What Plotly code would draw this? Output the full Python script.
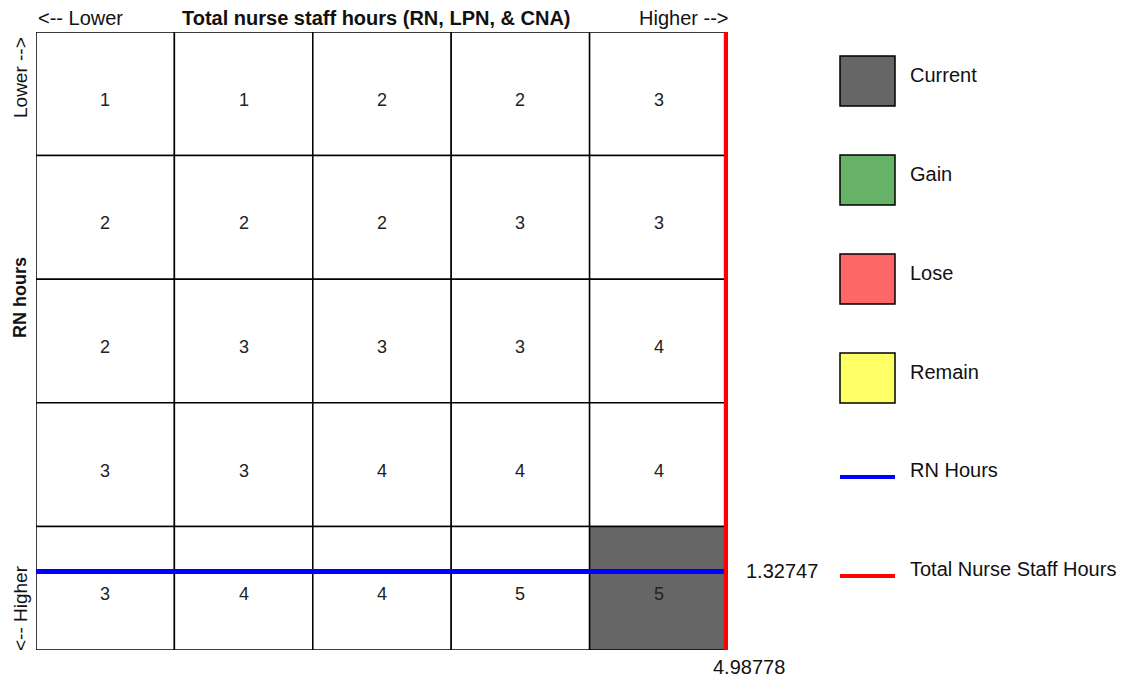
import numpy as np
import plotly.graph_objects as go

# ---- data ----
col_labels = ["1", "2", "3", "4", "5"]          # total nurse staff hours: lower -> higher
row_labels = ["1", "2", "3", "4", "5"]          # RN hours: lower (top) -> higher (bottom)
star_grid = [
    [1, 1, 2, 2, 3],
    [2, 2, 2, 3, 3],
    [2, 3, 3, 3, 4],
    [3, 3, 4, 4, 4],
    [3, 4, 4, 5, 5],
]
current_row = 4
current_col = 4
rn_hours = 1.32747
total_hours = 4.98778
rn_edges = [0.0, 0.3, 0.6, 0.9, 1.2, 1.55]      # RN-hour bin edges per row (top -> bottom)

legend_boxes = ["Current", "Gain", "Lose", "Remain"]
legend_box_colors = ["#666666", "#66b266", "#ff6666", "#ffff66"]
legend_lines = ["RN Hours", "Total Nurse Staff Hours"]
legend_line_colors = ["#0000ff", "#ff0000"]

W, H = 1126, 679
FONT = "Liberation Sans, Arial, sans-serif"
FS = 20      # horizontal texts
FSV = 19     # rotated texts
TXT = "#111111"


def px(x):
    return x / W


def py(y):
    return 1 - y / H


fig = go.Figure()
# invisible trace so axes are active
fig.add_trace(go.Scatter(x=[0, len(col_labels)], y=[0, len(row_labels)], mode="markers",
                         marker=dict(opacity=0), hoverinfo="skip", showlegend=False))

annotations = []
shapes = []

# cells and numbers
for i, row in enumerate(star_grid):
    for j, v in enumerate(row):
        fill = legend_box_colors[0] if (i == current_row and j == current_col) else "white"
        shapes.append(dict(type="rect", xref="x", yref="y", x0=j, x1=j + 1, y0=i, y1=i + 1,
                           line=dict(color="black", width=1.5), fillcolor=fill, layer="below"))
        annotations.append(dict(xref="x", yref="y", x=j + 0.5, y=i + 0.5, yshift=-6, text=str(v),
                                showarrow=False, xanchor="center", yanchor="middle",
                                font=dict(family=FONT, size=18, color="#222222")))

rn_pos = float(np.interp(rn_hours, rn_edges, np.arange(len(rn_edges))))
shapes.append(dict(type="line", xref="x", yref="y", x0=0, x1=len(col_labels), y0=rn_pos, y1=rn_pos,
                   line=dict(color=legend_line_colors[0], width=5)))
shapes.append(dict(type="line", xref="x", yref="y", x0=total_hours, x1=total_hours, y0=0,
                   y1=len(row_labels), line=dict(color=legend_line_colors[1], width=5)))

# legend boxes
for k, (name, c) in enumerate(zip(legend_boxes, legend_box_colors)):
    top = 56 + 99 * k
    shapes.append(dict(type="rect", xref="paper", yref="paper", x0=px(840), x1=px(895),
                       y0=py(top + 50), y1=py(top), line=dict(color="black", width=1.5), fillcolor=c))
    annotations.append(dict(xref="paper", yref="paper", x=px(908), y=py(top + 19), text=name,
                            showarrow=False, xanchor="left", yanchor="middle",
                            font=dict(family=FONT, size=FS, color=TXT)))
for k, (name, c) in enumerate(zip(legend_lines, legend_line_colors)):
    yy = 477 + 99 * k
    shapes.append(dict(type="line", xref="paper", yref="paper", x0=px(840), x1=px(895),
                       y0=py(yy), y1=py(yy), line=dict(color=c, width=4)))
    annotations.append(dict(xref="paper", yref="paper", x=px(908), y=py(yy - 7), text=name,
                            showarrow=False, xanchor="left", yanchor="middle",
                            font=dict(family=FONT, size=FS, color=TXT)))

# axis titles
annotations += [
    dict(xref="paper", yref="paper", x=px(36), y=py(18), text="<-- Lower", showarrow=False,
         xanchor="left", yanchor="middle", font=dict(family=FONT, size=FS, color=TXT)),
    dict(xref="paper", yref="paper", x=px(376), y=py(18),
         text="<b>Total nurse staff hours (RN, LPN, & CNA)</b>", showarrow=False,
         xanchor="center", yanchor="middle", font=dict(family=FONT, size=FS, color=TXT)),
    dict(xref="paper", yref="paper", x=px(730), y=py(18), text="Higher -->", showarrow=False,
         xanchor="right", yanchor="middle", font=dict(family=FONT, size=FS, color=TXT)),
    dict(xref="paper", yref="paper", x=px(20), y=py(78), text="Lower -->", showarrow=False,
         textangle=-90, xanchor="center", yanchor="middle", font=dict(family=FONT, size=FSV, color=TXT)),
    dict(xref="paper", yref="paper", x=px(20), y=py(298), text="<b>RN hours</b>", showarrow=False,
         textangle=-90, xanchor="center", yanchor="middle",
         font=dict(family=FONT, size=FSV - 1, color=TXT)),
    dict(xref="paper", yref="paper", x=px(20), y=py(608), text="<-- Higher", showarrow=False,
         textangle=-90, xanchor="center", yanchor="middle", font=dict(family=FONT, size=FSV, color=TXT)),
    dict(xref="paper", yref="y", x=px(744), y=rn_pos, text=f"{rn_hours:.5f}", showarrow=False,
         xanchor="left", yanchor="middle", font=dict(family=FONT, size=FS, color=TXT)),
    dict(xref="x", yref="paper", x=total_hours, y=py(667), xshift=23, text=f"{total_hours:.5f}",
         showarrow=False, xanchor="center", yanchor="middle", font=dict(family=FONT, size=FS, color=TXT)),
]

fig.update_layout(
    width=W, height=H,
    margin=dict(l=0, r=0, t=0, b=0),
    paper_bgcolor="white", plot_bgcolor="white",
    xaxis=dict(domain=[px(36), px(728)], range=[0, len(col_labels)], visible=False, fixedrange=True),
    yaxis=dict(domain=[py(650), py(32)], range=[len(row_labels), 0], visible=False, fixedrange=True),
    shapes=shapes, annotations=annotations, showlegend=False,
)

fig.write_html("out.html", config={"displayModeBar": False},
               post_script="document.body.style.margin='0';document.body.style.overflow='hidden';")
